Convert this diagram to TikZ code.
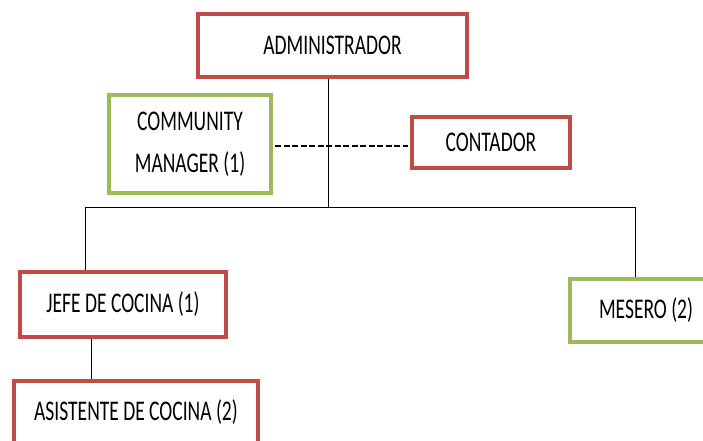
\documentclass[tikz,border=0pt]{standalone}
\usepackage{fontspec}
\setmainfont{Carlito}[FakeStretch=0.685]
\usepackage{tikz}
\usetikzlibrary{positioning,calc}
\usepackage{xcolor}
\definecolor{CargoRed}{HTML}{BE4B48}
\definecolor{CargoGreen}{HTML}{9BBB59}

\begin{document}
\begin{tikzpicture}[x=1pt,y=-1pt,
  cargo/.style={draw=CargoRed,line width=4pt,fill=white,inner sep=0pt,align=center,
    font=\fontsize{28.5}{39}\selectfont},
  cargoext/.style={cargo,draw=CargoGreen},
  link/.style={draw=black,line width=1pt}]
\useasboundingbox (0,0) rectangle (703,441);
% lineas
\coordinate (bus) at (328,207);
\coordinate (busL) at (85,207);
\coordinate (busR) at (635,207);
\coordinate (kit) at (91,0);
\draw[link] (bus |- 0,79) -- (bus);
\draw[link] (busL) -- (busR);
% cajas
\node[cargo,minimum width=269pt,minimum height=63pt] (admin) at (332.5,45.5) {ADMINISTRADOR};
\node[cargoext,minimum width=162pt,minimum height=98pt] (cm) at (190,144) {COMMUNITY\\[3pt]MANAGER (1)};
\node[cargo,minimum width=158pt,minimum height=51pt] (conta) at (491,142.5) {CONTADOR};
\node[cargo,minimum width=206pt,minimum height=65pt] (jefe) at (123,304.5) {JEFE DE COCINA (1)};
\node[cargo,minimum width=244pt,minimum height=63pt] (asist) at (136,412) {ASISTENTE DE COCINA (2)};
\node[cargoext,minimum width=152pt,minimum height=63pt] (mesero) at (646,310.5) {MESERO (2)};
% conectores
\draw[link] (busL) -- (busL |- jefe.north);
\draw[link] (busR) -- (busR |- mesero.north);
\draw[link] (jefe.south -| kit) -- (asist.north -| kit);
\draw[line width=2.8pt,dash pattern=on 6pt off 2.5pt] ($(cm.east)+(2,2)$) -- ($(conta.west)+(-2,3.5)$);
\end{tikzpicture}
\end{document}
